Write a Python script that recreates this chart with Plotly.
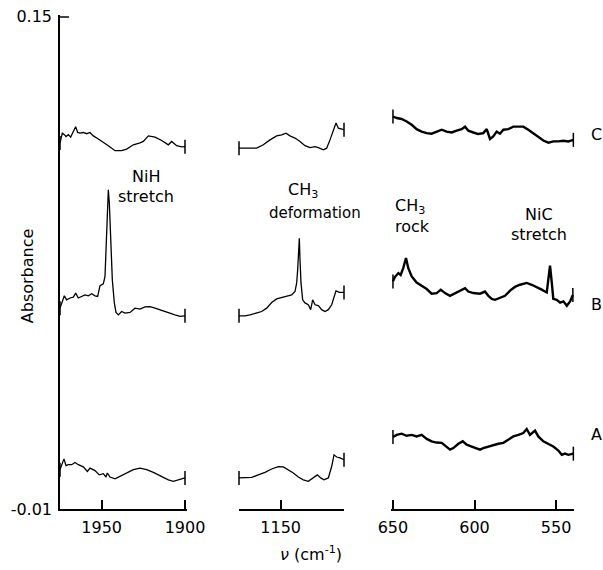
import plotly.graph_objects as go

# ---------------- data (absorbance vs wavenumber, cm^-1) ----------------
# NiH stretch region (1975 - 1900)
nih_wn_C = [1975, 1973.6, 1972.4, 1971.4, 1970, 1968.6, 1967, 1965.6, 1964.4, 1963, 1961, 1959, 1957, 1955,
            1952, 1948, 1946, 1942, 1938, 1935, 1931, 1927, 1925, 1922, 1918, 1914, 1910, 1908, 1905, 1902, 1900]
nih_abs_C = [0.1090, 0.1122, 0.1117, 0.1111, 0.1117, 0.1109, 0.1127, 0.1143, 0.1124, 0.1122, 0.1124, 0.1120,
             0.1124, 0.1113, 0.1103, 0.1090, 0.1081, 0.1065, 0.1065, 0.1070, 0.1084, 0.1090, 0.1095, 0.1113,
             0.1109, 0.1098, 0.1084, 0.1095, 0.1081, 0.1077, 0.1078]
nih_wn_B = [1975, 1973.6, 1972.4, 1971, 1969, 1967, 1965.6, 1964, 1962, 1960, 1958, 1956, 1954, 1952.4, 1951,
            1949, 1948, 1947, 1946.4, 1946, 1945.4, 1944.4, 1943.6, 1942.4, 1941.4, 1940, 1938, 1936, 1933,
            1930, 1927, 1924, 1921, 1918, 1914, 1910, 1906, 1903, 1900]
nih_abs_B = [0.0553, 0.0575, 0.0593, 0.0580, 0.0586, 0.0589, 0.0602, 0.0586, 0.0591, 0.0596, 0.0593, 0.0600,
             0.0593, 0.0591, 0.0626, 0.0632, 0.0656, 0.0808, 0.0905, 0.0938, 0.0895, 0.0753, 0.0645, 0.0570,
             0.0539, 0.0531, 0.0542, 0.0537, 0.0539, 0.0553, 0.0550, 0.0557, 0.0558, 0.0553, 0.0545, 0.0537,
             0.0531, 0.0526, 0.0528]
nih_wn_A = [1975, 1974, 1972.6, 1971.4, 1970, 1968, 1966, 1964, 1961, 1958.6, 1957, 1954, 1951.4, 1949, 1947.4,
            1946.6, 1945, 1942, 1939, 1935, 1931, 1927, 1923, 1919, 1915, 1912.6, 1910, 1907, 1904, 1901.4, 1900]
nih_abs_A = [0.0028, 0.0044, 0.0063, 0.0041, 0.0044, 0.0044, 0.0051, 0.0044, 0.0037, 0.0022, 0.0033, 0.0025,
             0.0011, 0.0015, 0.0004, 0.0017, 0.0004, -0.0002, 0.0006, 0.0017, 0.0028, 0.0033, 0.0028, 0.0019,
             0.0008, 0.0004, -0.0005, -0.0010, -0.0005, -0.0002, 0.0001]

# CH3 deformation region (1175 - 1112)
def_wn_C = [1175, 1172.4, 1168.4, 1164.4, 1160.4, 1156.4, 1152.4, 1149.4, 1146.8, 1144.4, 1141.4, 1138.4,
            1135.4, 1132.4, 1129.4, 1127.4, 1124.4, 1122.4, 1120.4, 1118.4, 1116.8, 1115.4, 1114, 1112]
def_abs_C = [0.1073, 0.1073, 0.1071, 0.1073, 0.1084, 0.1100, 0.1113, 0.1116, 0.1122, 0.1113, 0.1106, 0.1095,
             0.1081, 0.1075, 0.1078, 0.1075, 0.1068, 0.1073, 0.1100, 0.1133, 0.1155, 0.1138, 0.1135, 0.1133]
def_wn_B = [1175, 1171.4, 1168.4, 1164.4, 1161.4, 1158.4, 1155.4, 1152.4, 1149.4, 1146.4, 1143.4, 1141.4,
            1140.4, 1139.8, 1139.2, 1138.8, 1138.4, 1137.8, 1136.8, 1135.4, 1133.4, 1132, 1130.8, 1129.4,
            1127.4, 1125.4, 1123.4, 1121.4, 1119.4, 1118, 1116.8, 1114.8, 1112]
def_abs_B = [0.0528, 0.0528, 0.0531, 0.0537, 0.0542, 0.0553, 0.0571, 0.0583, 0.0588, 0.0591, 0.0596, 0.0607,
             0.0635, 0.0678, 0.0743, 0.0780, 0.0710, 0.0635, 0.0580, 0.0570, 0.0564, 0.0548, 0.0580, 0.0564,
             0.0561, 0.0548, 0.0542, 0.0548, 0.0564, 0.0591, 0.0609, 0.0604, 0.0604]
def_wn_A = [1175, 1171.4, 1167.4, 1163.4, 1159.4, 1155.4, 1151.4, 1148.4, 1145.4, 1142.4, 1139.4, 1136.4,
            1133.4, 1130.4, 1128, 1126, 1124, 1121.4, 1119.4, 1118, 1116.4, 1114.4, 1112]
def_abs_A = [0.0001, 0.0001, 0.0003, 0.0011, 0.0019, 0.0030, 0.0038, 0.0037, 0.0028, 0.0017, 0.0004, -0.0005,
             -0.0010, 0.0001, 0.0011, 0.0001, -0.0005, 0.0001, 0.0038, 0.0076, 0.0069, 0.0066, 0.0060]

# CH3 rock / NiC stretch region (650 - 539)
low_wn_C = [650, 647.7, 644.7, 641.6, 638.5, 635.5, 632.4, 629.3, 626.3, 623.2, 620.1, 617.1, 614, 610.9,
            607.9, 605.8, 603.8, 600.7, 597.7, 594.6, 592.5, 590.5, 588.5, 586.4, 584.4, 582.3, 579.3, 576.2,
            573.1, 570.1, 567, 563.9, 560.9, 557.8, 554.7, 551.7, 548.6, 545.5, 542.5, 539.4]
low_abs_C = [0.1176, 0.1171, 0.1168, 0.1160, 0.1149, 0.1135, 0.1127, 0.1122, 0.1120, 0.1127, 0.1133, 0.1127,
             0.1124, 0.1130, 0.1135, 0.1143, 0.1130, 0.1124, 0.1119, 0.1122, 0.1135, 0.1103, 0.1111, 0.1127,
             0.1120, 0.1133, 0.1135, 0.1143, 0.1143, 0.1143, 0.1133, 0.1122, 0.1111, 0.1098, 0.1091, 0.1095,
             0.1095, 0.1097, 0.1095, 0.1100]
low_wn_B = [650, 648.8, 646.7, 645.3, 643.7, 642, 640.6, 638.5, 635.5, 632.4, 629.3, 626.3, 623.2, 620.7,
            618.1, 615, 612, 608.9, 605.8, 603.8, 600.7, 596.6, 593.6, 591.5, 589.4, 587.4, 584.4, 581.3, 578.2,
            575.2, 572.1, 568, 564.9, 561.8, 558.8, 555.7, 554.7, 553.7, 552.6, 551.7, 549.6, 547.5, 545.5,
            543.4, 541.4, 539.7]
low_abs_B = [0.0640, 0.0654, 0.0667, 0.0661, 0.0683, 0.0716, 0.0683, 0.0656, 0.0636, 0.0626, 0.0615, 0.0600,
             0.0602, 0.0613, 0.0602, 0.0593, 0.0602, 0.0610, 0.0618, 0.0607, 0.0602, 0.0600, 0.0607, 0.0593,
             0.0583, 0.0580, 0.0586, 0.0593, 0.0610, 0.0622, 0.0629, 0.0635, 0.0629, 0.0622, 0.0613, 0.0604,
             0.0645, 0.0691, 0.0635, 0.0583, 0.0580, 0.0571, 0.0575, 0.0561, 0.0575, 0.0596]
low_wn_A = [650, 647.7, 644.7, 641.6, 638.5, 635.5, 632.4, 629.3, 626.3, 623.2, 620.1, 617.1, 615, 613, 609.9,
            607.2, 604.8, 601.7, 598.6, 596.6, 594.6, 591.5, 588.5, 585.4, 582.3, 579.3, 576.2, 573.1, 570.1,
            568, 566, 562.9, 560.9, 557.8, 554.7, 551.7, 548.6, 546.5, 544.5, 542.5, 539.4]
low_abs_A = [0.0134, 0.0141, 0.0145, 0.0138, 0.0141, 0.0136, 0.0141, 0.0128, 0.0120, 0.0116, 0.0115, 0.0103,
             0.0093, 0.0098, 0.0112, 0.0120, 0.0109, 0.0103, 0.0098, 0.0093, 0.0098, 0.0103, 0.0109, 0.0112,
             0.0115, 0.0125, 0.0136, 0.0141, 0.0147, 0.0160, 0.0141, 0.0155, 0.0136, 0.0120, 0.0112, 0.0103,
             0.0090, 0.0076, 0.0080, 0.0076, 0.0080]

# axis ranges are padded very slightly so the end ticks (1900, 650, 0.15) are drawn
x_ranges = {"x": [1975, 1898.8], "x2": [1175, 1112], "x3": [651.2, 539]}
x_ticks = {"x": [1950, 1900], "x2": [1150], "x3": [650, 600, 550]}
y_range = [-0.01, 0.1506]
y_ticks = [0.15, -0.01]
y_ticktext = ["0.15", "-0.01"]
trace_labels = ["C", "B", "A"]

FONT = "DejaVu Sans, Arial, sans-serif"
FS = 16

fig = go.Figure()
panels = [
    ("x", [(nih_wn_C, nih_abs_C), (nih_wn_B, nih_abs_B), (nih_wn_A, nih_abs_A)], 1.3),
    ("x2", [(def_wn_C, def_abs_C), (def_wn_B, def_abs_B), (def_wn_A, def_abs_A)], 1.3),
    ("x3", [(low_wn_C, low_abs_C), (low_wn_B, low_abs_B), (low_wn_A, low_abs_A)], 2.4),
]
for xa, series, lw in panels:
    for wn, ab in series:
        fig.add_trace(go.Scatter(x=wn, y=ab, xaxis=xa, yaxis="y", mode="lines",
                                 line=dict(color="black", width=lw), hoverinfo="skip",
                                 showlegend=False, cliponaxis=False))
        # end caps at both ends of each spectrum
        fig.add_trace(go.Scatter(x=[wn[0], wn[-1]], y=[ab[0], ab[-1]], xaxis=xa, yaxis="y",
                                 mode="markers", cliponaxis=False, showlegend=False, hoverinfo="skip",
                                 marker=dict(symbol="line-ns", size=10,
                                             line=dict(color="black", width=1.5))))

axis_common = dict(showline=True, linecolor="black", linewidth=1.5, ticks="inside", ticklen=9,
                   tickwidth=1.5, tickcolor="black", showgrid=False, zeroline=False,
                   tickfont=dict(family=FONT, size=FS, color="black"), anchor="y",
                   ticklabelstandoff=3, automargin=False)

plot_l = 60
pw = 514
def dom(a, b):
    return [(a - plot_l) / pw, (b - plot_l) / pw]

fig.update_layout(
    width=603, height=570,
    margin=dict(l=60, r=29, t=15, b=61),
    paper_bgcolor="white", plot_bgcolor="white",
    xaxis=dict(domain=dom(60, 187), range=x_ranges["x"], tickvals=x_ticks["x"], **axis_common),
    xaxis2=dict(domain=dom(239, 344), range=x_ranges["x2"], tickvals=x_ticks["x2"], **axis_common),
    xaxis3=dict(domain=dom(391, 574), range=x_ranges["x3"], tickvals=x_ticks["x3"], **axis_common),
    yaxis=dict(range=y_range, tickvals=y_ticks, ticktext=y_ticktext, showline=True,
               linecolor="black", linewidth=1.5, ticks="inside", ticklen=9, tickwidth=1.5,
               showgrid=False, zeroline=False, anchor="x", ticklabelstandoff=3, automargin=False,
               tickfont=dict(family=FONT, size=FS, color="black")),
    showlegend=False,
)

def ann(text, x, y, xref="x", yref="y", xanchor="center", size=FS, angle=0):
    fig.add_annotation(text=text, x=x, y=y, xref=xref, yref=yref, showarrow=False,
                       xanchor=xanchor, yanchor="middle", textangle=angle,
                       font=dict(family=FONT, size=size, color="black"))

ann("NiH", 1923.4, 0.098)
ann("stretch", 1923.4, 0.0915)
ann("CH<sub>3</sub>", 1136.6, 0.0937, xref="x2")
ann("deformation", 1129.4, 0.0862, xref="x2", size=15)
ann("CH<sub>3</sub>", 650, 0.0883, xref="x3", xanchor="left")
ann("rock", 650, 0.0818, xref="x3", xanchor="left")
ann("NiC", 560.4, 0.0857, xref="x3")
ann("stretch", 560.4, 0.0792, xref="x3")

for lab, yv in zip(trace_labels, [0.1116, 0.0564, 0.0141]):
    ann(lab, 1.043, yv, xref="paper")

ann("Absorbance", -0.064, 0.4715, xref="paper", yref="paper", angle=-90)
ann("<i>ν</i> (cm<sup>-1</sup>)", 0.488, -0.0894, xref="paper", yref="paper")

fig.write_html("out.html", config={"displayModeBar": False},
               post_script="document.body.style.margin='0';document.body.style.overflow='hidden';")
